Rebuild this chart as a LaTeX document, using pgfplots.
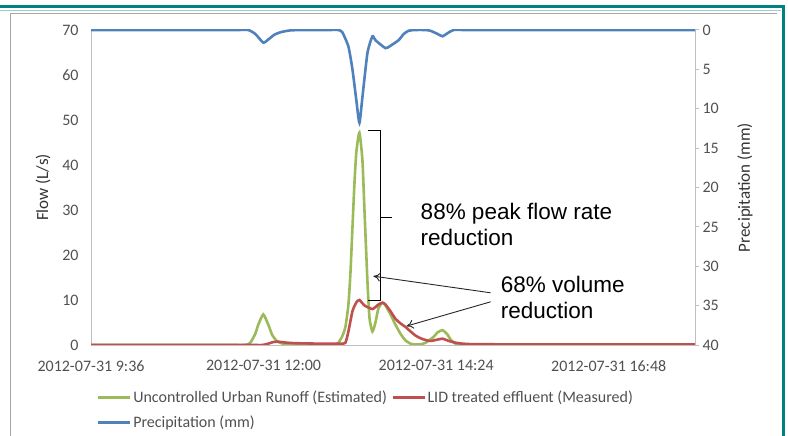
\documentclass[border=0pt]{standalone}
\usepackage{pgfplots}
\pgfplotsset{compat=1.18}
\usepackage{fontspec}
\setmainfont{Carlito}
\newfontfamily\arialfont{Liberation Sans}
\usetikzlibrary{arrows.meta}

\definecolor{xlgreen}{RGB}{155,187,89}
\definecolor{xlred}{RGB}{192,80,77}
\definecolor{xlblue}{RGB}{79,129,189}
\definecolor{xltext}{RGB}{80,80,80}
\definecolor{xlaxis}{RGB}{191,191,191}
\definecolor{tealframe}{RGB}{0,128,128}

\begin{document}
\begin{tikzpicture}
\useasboundingbox (0,0) rectangle (788bp,436bp);
% slide frame
\draw[gray!70, line width=0.8bp] (10bp,-5bp) -- (10bp,423bp) -- (777bp,423bp);
\draw[tealframe!40, line width=0.8bp] (0bp,425.5bp) -- (781bp,425.5bp);
\draw[tealframe, line width=3bp] (0bp,429bp) -- (783bp,429bp) -- (783bp,-5bp);

\pgfplotsset{
  flowaxis/.style={
    scale only axis, width=604bp, height=315bp,
    at={(91bp,91bp)}, anchor=south west,
    xmin=9.6, xmax=18.0,
    tick label style={font=\fontsize{16bp}{19bp}\selectfont, color=xltext},
    /pgf/number format/assume math mode=true,
    axis line style={xlaxis, line width=1bp},
  }
}

% left axis: flow
\begin{axis}[flowaxis,
  ymin=0, ymax=70, ytick={0,10,...,70},
  axis x line*=bottom, axis y line*=left,
  major tick length=0pt,
  xtick={9.6,12,14.4,16.8},
  xticklabels={2012-07-31 9:36,2012-07-31 12:00,2012-07-31 14:24,2012-07-31 16:48},
  xticklabel style={yshift=-12bp},
  yticklabel style={xshift=-9bp},
  ylabel={Flow (L/s)},
  every axis y label/.style={at={(axis description cs:-0.0795,0.5)}, rotate=90, anchor=center,
    font=\fontsize{17bp}{20bp}\selectfont, color=black!80},
  legend columns=2,
  legend cell align=left,
  legend style={at={(axis description cs:0.0099,-0.140)}, anchor=north west,
    draw=none, fill=none, inner sep=0pt, row sep=9bp,
    font=\fontsize{16bp}{19bp}\selectfont, text=xltext,
    nodes={inner sep=1.5bp},
    /tikz/every even column/.append style={column sep=3bp}},
  legend image code/.code={\draw[#1] (0bp,0bp) -- (32bp,0bp);},
]
\addplot[xlgreen, line width=2.6bp, smooth, tension=0.35] coordinates {
(9.600,0) (11.5,0) (11.745,0) (11.815,0.5) (11.885,2.5) (11.926,4.5) (11.996,6.8)
(12.066,4.5) (12.121,2.2) (12.191,0.8) (12.302,0.1) (12.372,0) (12.6,0) (12.85,0) (12.999,0)
(13.041,0.5) (13.096,2) (13.138,4) (13.180,9) (13.208,16) (13.236,26)
(13.264,36) (13.291,43) (13.333,47.2) (13.375,41) (13.403,30) (13.445,14)
(13.473,6) (13.514,3) (13.556,5) (13.598,8.2) (13.654,9.4) (13.695,8.8)
(13.765,6.8) (13.835,4.5) (13.904,2.5) (13.974,1.0) (14.044,0.3) (14.113,0.1)
(14.183,0.15) (14.253,0.5) (14.364,1.8) (14.420,2.8) (14.489,3.3) (14.559,2.3)
(14.601,1.2) (14.670,0.3) (14.740,0.1) (14.879,0) (15.1,0) (15.5,0) (18.0,0)
};
\addlegendentry{Uncontrolled Urban Runoff (Estimated)}
\addplot[xlred, line width=2.6bp, smooth, tension=0.35] coordinates {
(9.600,0) (11.6,0) (11.85,0) (11.985,0) (12.066,0.3) (12.121,0.6) (12.191,0.75) (12.302,0.55)
(12.442,0.4) (12.790,0.3) (13.069,0.3) (13.138,0.5) (13.180,3) (13.236,7.5)
(13.291,9.5) (13.333,10) (13.403,8.8) (13.514,8) (13.598,9) (13.654,9.4)
(13.695,9.0) (13.765,7.5) (13.835,5.8) (13.904,4.8) (13.974,4.0) (14.044,3.0)
(14.113,2.1) (14.183,1.5) (14.253,1.1) (14.322,0.9) (14.420,1.2) (14.489,1.4)
(14.559,1.0) (14.643,0.6) (14.740,0.35) (14.879,0.2) (15.297,0.15) (16.5,0.12) (18.0,0.1)
};
\addlegendentry{LID treated effluent (Measured)}
\addlegendimage{xlblue, line width=2.6bp}
\addlegendentry{Precipitation (mm)}

% bracket and annotations
\draw[black, line width=1bp] (axis cs:13.459,47.6) -- (axis cs:13.633,47.6) -- (axis cs:13.633,10.0) -- (axis cs:13.459,10.0);
\draw[black, line width=1bp] (axis cs:13.633,28.4) -- (axis cs:13.793,28.4);
\node[anchor=west, align=left, inner sep=0pt, font=\arialfont\fontsize{22.5bp}{26bp}\selectfont]
  at (axis cs:14.183,26.8) {88\% peak flow rate\\reduction};
\node[anchor=west, align=left, inner sep=0pt, font=\arialfont\fontsize{22.5bp}{26bp}\selectfont]
  at (axis cs:15.297,10.6) {68\% volume\\reduction};
\draw[black!85, line width=0.9bp, -{To[length=7bp,width=9bp]}] (axis cs:15.158,11.6) -- (axis cs:13.528,15.3);
\draw[black!85, line width=0.9bp, -{To[length=7bp,width=9bp]}] (axis cs:15.158,9.6) -- (axis cs:13.988,4.2);
\end{axis}

% right axis: precipitation (reversed)
\begin{axis}[flowaxis,
  ymin=0, ymax=40, ytick={0,5,...,40}, y dir=reverse,
  axis x line=none, axis y line*=right,
  tick align=outside, major tick length=4bp,
  tick style={xlaxis, line width=1bp},
  ylabel={Precipitation (mm)},
  every axis y label/.style={at={(axis description cs:1.0828,0.5)}, rotate=90, anchor=center,
    font=\fontsize{17bp}{20bp}\selectfont, color=black!80},
]
\addplot[xlblue, line width=2.6bp, smooth, tension=0.35] coordinates {
(9.600,0) (11.4,0) (11.65,0) (11.787,0) (11.885,0.5) (11.996,1.6) (12.066,1.2) (12.150,0.6) (12.230,0.3)
(12.302,0.15) (12.372,0.05) (12.511,0) (12.7,0) (12.9,0) (13.041,0) (13.096,0.3) (13.180,2.1)
(13.236,5) (13.291,9) (13.333,11.8) (13.375,8.5) (13.445,2.9) (13.514,0.8)
(13.556,1.3) (13.695,2.3) (13.765,2.0) (13.877,1.3) (13.95,0.5) (14.016,0.1) (14.1,0) (14.25,0) (14.322,0.1)
(14.420,0.5) (14.489,0.8) (14.559,0.4) (14.643,0) (14.8,0) (15.1,0) (18.0,0)
};
\end{axis}
\end{tikzpicture}
\end{document}
